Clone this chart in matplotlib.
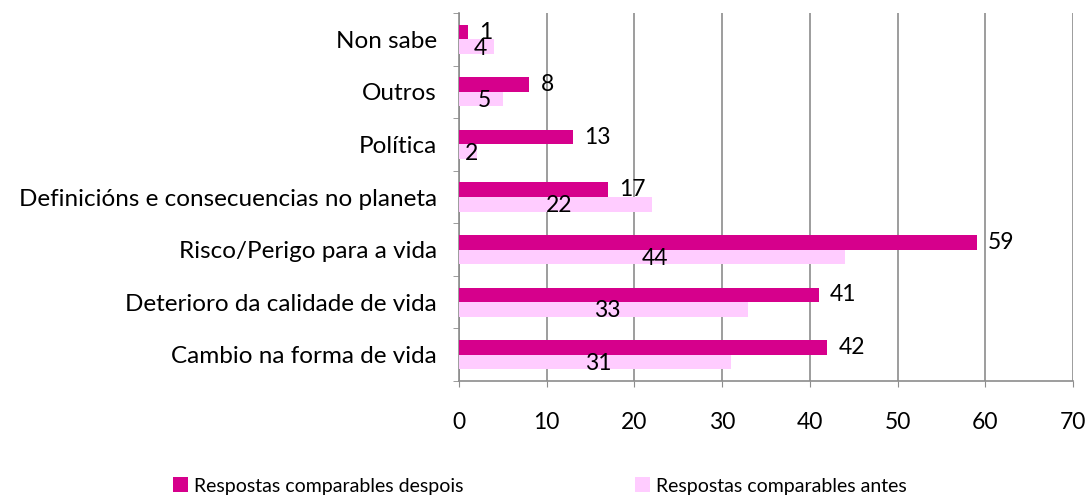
import matplotlib
matplotlib.use("Agg")
import matplotlib.pyplot as plt
import numpy as np

categories = ["Cambio na forma de vida", "Deterioro da calidade de vida",
              "Risco/Perigo para a vida", "Definicións e consecuencias no planeta",
              "Política", "Outros", "Non sabe"]
despois = [42, 41, 59, 17, 13, 8, 1]
antes = [31, 33, 44, 22, 2, 5, 4]
series_names = ["Respostas comparables despois", "Respostas comparables antes"]
xticks = [0, 10, 20, 30, 40, 50, 60, 70]

dark = "#D6008C"
light = "#FFCCFF"
grid = "#8C8C8C"

plt.rcParams['font.family'] = ['Lato', 'DejaVu Sans']

fig = plt.figure(figsize=(10.89, 4.99), dpi=100)
ax = fig.add_axes([459/1089, 1-381/499, (1073-459)/1089, (381-13)/499])

y = np.arange(len(categories))
h = 0.276
ax.barh(y + h/2, despois, height=h, color=dark, label=series_names[0], zorder=3)
ax.barh(y - h/2, antes, height=h, color=light, label=series_names[1], zorder=3)

fs = 16.5
for yi, v in zip(y, despois):
    ax.text(v + 1.3, yi + h/2, str(v), ha="left", va="center", fontsize=fs, color="black", zorder=4)
for yi, v in zip(y, antes):
    ax.text(v / 2 + 0.4, yi - h/2 - 0.03, str(v), ha="center", va="center", fontsize=fs, color="black", zorder=4)

ax.set_xlim(0, 70)
ax.set_ylim(-0.5, len(categories) - 0.5)
ax.set_xticks(xticks)
ax.set_xticklabels([str(t) for t in xticks], fontsize=fs)
ax.set_yticks(y)
ax.set_yticklabels(categories, fontsize=17.5)
ax.set_yticks(np.arange(-0.5, len(categories) + 0.5, 1), minor=True)
ax.tick_params(axis="y", which="major", length=0, pad=16)
ax.tick_params(axis="y", which="minor", length=4, color=grid, direction="out")
ax.tick_params(axis="x", which="major", length=4, color=grid, direction="out", pad=18)

ax.xaxis.grid(True, color=grid, linewidth=1.2, zorder=0)
ax.set_axisbelow(True)
for s in ["top", "right"]:
    ax.spines[s].set_visible(False)
for s in ["left", "bottom"]:
    ax.spines[s].set_color(grid)
    ax.spines[s].set_linewidth(1.2)

leg = fig.legend(loc="center", bbox_to_anchor=(540/1089, 1-486/499), ncol=2, frameon=False,
                 fontsize=14, handlelength=0.8, handleheight=0.8, handletextpad=0.3,
                 columnspacing=8.8)

fig.savefig("out.png", dpi=100)
